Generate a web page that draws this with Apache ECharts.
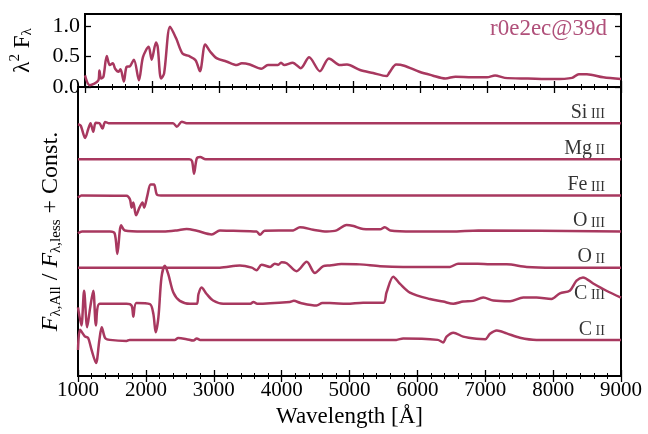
<!DOCTYPE html>
<html><head><meta charset="utf-8">
<script src="https://cdn.jsdelivr.net/npm/echarts@6/dist/echarts.min.js"></script>
<style>html,body{margin:0;padding:0;background:#fff}#c{width:648px;height:434px}</style>
</head><body><div id="c"></div>
<script>
// ---- data ----
const xTickValues = [1000,2000,3000,4000,5000,6000,7000,8000,9000];
const topTickLabels = ['0.0','0.5','1.0'];
const runLabel = 'r0e2ec@39d';

const topSpectrum = [[1000,0.19],[1070,0.03],[1200,0.11],[1215,0.27],[1240,0.14],[1275,0.17],[1325,0.51],[1370,0.36],[1415,0.39],[1450,0.30],[1500,0.25],[1530,0.29],[1580,0.09],[1620,0.33],[1670,0.34],[1730,0.45],[1805,0.11],[1865,0.49],[1950,0.66],[1995,0.45],[2060,0.73],[2085,0.66],[2135,0.14],[2180,0.22],[2270,0.99],[2360,0.80],[2455,0.55],[2550,0.51],[2650,0.44],[2715,0.26],[2795,0.70],[2870,0.58],[2970,0.47],[3110,0.42],[3265,0.36],[3340,0.39],[3460,0.37],[3630,0.30],[3730,0.36],[3880,0.36],[3925,0.40],[3975,0.36],[4100,0.40],[4220,0.31],[4345,0.49],[4505,0.26],[4640,0.47],[4810,0.36],[4910,0.37],[5105,0.28],[5300,0.23],[5500,0.18],[5545,0.24],[5645,0.37],[5765,0.35],[5990,0.25],[6185,0.19],[6380,0.14],[6530,0.17],[6775,0.16],[7000,0.16],[7120,0.19],[7265,0.15],[7610,0.14],[8000,0.13],[8270,0.15],[8370,0.21],[8490,0.21],[8735,0.16],[9000,0.13]];

const ratioCII = [[1000,0.72],[1030,1.28],[1100,1.1],[1150,1.05],[1200,0.72],[1265,0.36],[1315,1.0],[1350,1.35],[1400,1.05],[1470,1.0],[1715,0.97],[1760,1.0],[2425,1.0],[2475,1.05],[2600,1.02],[2700,0.98],[2750,1.04],[2800,1.0],[4710,1.0],[5690,1.0],[5790,1.04],[6300,1.0],[6380,0.93],[6430,1.09],[6530,1.2],[6675,1.09],[6870,1.03],[7000,1.02],[7070,1.17],[7170,1.26],[7315,1.18],[7510,1.06],[7755,1.0],[9000,1.0]];
const ratioCIII = [[1000,0.9],[1050,0.4],[1090,1.36],[1135,0.35],[1180,0.9],[1225,1.36],[1265,0.4],[1320,1.0],[1715,1.0],[1790,0.95],[1815,0.64],[1860,1.02],[2060,0.99],[2110,0.72],[2145,0.21],[2185,0.63],[2230,1.73],[2280,2.05],[2330,1.82],[2405,1.31],[2500,1.08],[2650,1.0],[2750,1.0],[2775,1.27],[2820,1.45],[2895,1.27],[2990,1.09],[3140,1.0],[3540,1.0],[3585,1.05],[3640,1.0],[4120,1.05],[4180,1.08],[4280,1.02],[4515,0.95],[4600,1.02],[4710,1.02],[4960,1.0],[5200,1.03],[5500,1.03],[5545,1.31],[5645,1.75],[5745,1.55],[5890,1.31],[6185,1.13],[6380,1.06],[6530,1.0],[6675,1.06],[6820,1.08],[6970,1.17],[7120,1.09],[7365,1.07],[7560,1.17],[7755,1.17],[7975,1.13],[8100,1.29],[8245,1.36],[8345,1.64],[8440,1.73],[8590,1.56],[8785,1.36],[9000,1.17]];
const ratioOII = [[1000,1.0],[3090,1.0],[3385,1.06],[3560,1.0],[3630,0.93],[3705,1.08],[3830,1.02],[3900,1.11],[3950,1.08],[4000,1.15],[4075,1.12],[4220,0.9],[4370,1.16],[4490,0.85],[4615,1.04],[4710,1.06],[4880,1.1],[5150,1.09],[5450,1.04],[5790,1.02],[6480,1.02],[6600,1.11],[6890,1.11],[7070,1.09],[7315,1.09],[7610,1.02],[8000,1.0],[9000,1.0]];
const ratioOIII = [[1000,0.95],[1060,1.0],[1470,1.0],[1540,0.95],[1580,0.38],[1635,1.17],[1690,1.03],[1960,1.0],[2255,1.0],[2455,1.03],[2600,1.07],[2750,1.02],[2970,0.92],[3090,1.03],[3290,1.02],[3630,1.0],[3680,0.91],[3750,1.02],[4170,1.03],[4270,1.12],[4465,1.05],[4665,1.0],[4810,1.03],[4955,1.18],[5060,1.15],[5200,1.07],[5450,1.06],[5520,1.12],[5600,1.03],[5940,1.0],[6500,1.0],[6900,1.03],[9000,1.0]];
const ratioFeIII = [[1000,0.94],[1050,1.0],[1715,0.99],[1765,0.89],[1790,0.66],[1815,0.8],[1855,0.45],[1905,0.66],[1950,0.8],[1975,0.66],[2020,0.98],[2070,1.3],[2120,1.3],[2160,1.03],[2220,1.0],[9000,1.0]];
const ratioMgII = [[1000,1.0],[2640,1.0],[2680,0.95],[2710,0.6],[2750,1.02],[2800,1.06],[2880,1.0],[9000,1.0]];
const ratioSiIII = [[1000,0.97],[1040,0.93],[1105,0.59],[1150,0.83],[1185,1.0],[1225,0.76],[1260,1.01],[1315,1.0],[1360,0.85],[1400,1.03],[1450,1.0],[2400,1.0],[2455,0.9],[2530,1.04],[2600,1.0],[9000,1.0]];

const ionElements = ['C','C','O','O','Fe','Mg','Si'];
const ionStages = ['II','III','II','III','III','II','III'];
const ionRatios = [ratioCII, ratioCIII, ratioOII, ratioOIII, ratioFeIII, ratioMgII, ratioSiIII];

// ---- style ----
const FONT = '"Liberation Serif","DejaVu Serif",serif';
const LINE = '#a8385f';
const TEXTC = '#000';
const L = 78, R = 27;
const SMOOTH = 0.3;

const xBase = (grid, pos, showLabel) => ({
  type: 'value', gridIndex: grid, position: pos, min: 1000, max: 9000, interval: 1000,
  axisLine: {show: false}, splitLine: {show: false},
  axisTick: {show: true, inside: true, length: 6, lineStyle: {color: '#000', width: 1.3}},
  minorTick: {show: true, splitNumber: 5, length: 3, lineStyle: {color: '#000', width: 1}},
  axisLabel: {show: showLabel, fontFamily: FONT, fontSize: 21, color: TEXTC, margin: 4,
    showMinLabel: true, showMaxLabel: true, hideOverlap: false,
    formatter: v => (xTickValues.indexOf(Math.round(v)) >= 0 ? String(Math.round(v)) : '')}
});

const seriesList = [{
  type: 'line', xAxisIndex: 0, yAxisIndex: 0, data: topSpectrum,
  showSymbol: false, smooth: SMOOTH,
  lineStyle: {color: LINE, width: 2.5}, silent: true
}];
ionRatios.forEach((arr, i) => {
  seriesList.push({
    type: 'line', xAxisIndex: 3, yAxisIndex: 2,
    data: arr.map(p => [p[0], p[1] + i]),
    showSymbol: false, smooth: SMOOTH,
    lineStyle: {color: LINE, width: 2.5}, silent: true
  });
});
seriesList.push({
  type: 'scatter', xAxisIndex: 3, yAxisIndex: 2, symbolSize: 1,
  itemStyle: {color: 'rgba(0,0,0,0)'}, silent: true,
  data: ionElements.map((e, i) => [8770, i + 1.29]),
  label: {
    show: true, position: 'left', distance: 0,
    formatter: p => '{el|' + ionElements[p.dataIndex] + '}{st| ' + ionStages[p.dataIndex] + '}',
    rich: {
      el: {fontFamily: FONT, fontSize: 20, color: TEXTC},
      st: {fontFamily: FONT, fontSize: 14, color: TEXTC, padding: [4, 0, 0, 0]}
    }
  }
});

const chart = echarts.init(document.getElementById('c'), null, {renderer: 'canvas'});
chart.setOption({
  animation: false,
  backgroundColor: '#fff',
  title: {text: runLabel, right: 41, top: 17, padding: 0,
    textStyle: {fontFamily: FONT, fontSize: 23, fontWeight: 'normal', color: '#b0507a'}},
  grid: [
    {left: L, right: R, top: 14, height: 73, show: true, borderColor: '#000', borderWidth: 2, backgroundColor: 'transparent'},
    {left: L, right: R, top: 87, height: 289, show: true, borderColor: '#000', borderWidth: 2, backgroundColor: 'transparent'}
  ],
  xAxis: [
    xBase(0, 'bottom', false),
    xBase(0, 'top', false),
    xBase(1, 'top', false),
    Object.assign(xBase(1, 'bottom', true), {
      name: 'Wavelength [Å]', nameLocation: 'middle', nameGap: 29,
      nameTextStyle: {fontFamily: FONT, fontSize: 23, color: TEXTC}
    })
  ],
  yAxis: [
    {type: 'value', gridIndex: 0, position: 'left', min: 0, max: 1.2, interval: 0.5,
      axisLine: {show: false}, splitLine: {show: false},
      axisTick: {show: true, inside: true, length: 6, lineStyle: {color: '#000', width: 1.3}},
      axisLabel: {fontFamily: FONT, fontSize: 22, color: TEXTC, margin: 5, showMaxLabel: false,
        formatter: v => { const s = v.toFixed(1); return topTickLabels.indexOf(s) >= 0 && Math.abs(v - 1.2) > 1e-6 ? s : ''; }},
      name: '{a|λ}{sup|2}{a| F}{sub|λ}', nameLocation: 'middle', nameGap: 48, nameRotate: 90,
      nameTextStyle: {rich: {
        a: {fontFamily: FONT, fontSize: 23, color: TEXTC},
        sup: {fontFamily: FONT, fontSize: 15, color: TEXTC, padding: [0, 0, 14, 0]},
        sub: {fontFamily: FONT, fontSize: 15, color: TEXTC, padding: [10, 0, 0, 0]}
      }}
    },
    {type: 'value', gridIndex: 0, position: 'right', min: 0, max: 1.2, interval: 0.5,
      axisLine: {show: false}, splitLine: {show: false}, axisLabel: {show: false},
      axisTick: {show: true, inside: true, length: 6, lineStyle: {color: '#000', width: 1.3}}
    },
    {type: 'value', gridIndex: 1, position: 'left', min: 0, max: 8,
      axisLine: {show: false}, splitLine: {show: false}, axisLabel: {show: false}, axisTick: {show: false},
      name: '{f|F}{s|λ,All}{n| / }{f|F}{s|λ,less}{n| + Const.}', nameLocation: 'middle', nameGap: 14, nameRotate: 90,
      nameTextStyle: {rich: {
        f: {fontFamily: FONT, fontSize: 24, fontStyle: 'italic', color: TEXTC},
        n: {fontFamily: FONT, fontSize: 24, color: TEXTC},
        s: {fontFamily: FONT, fontSize: 15, color: TEXTC, padding: [11, 0, 0, 0]}
      }}
    }
  ],
  series: seriesList
});
</script></body></html>
